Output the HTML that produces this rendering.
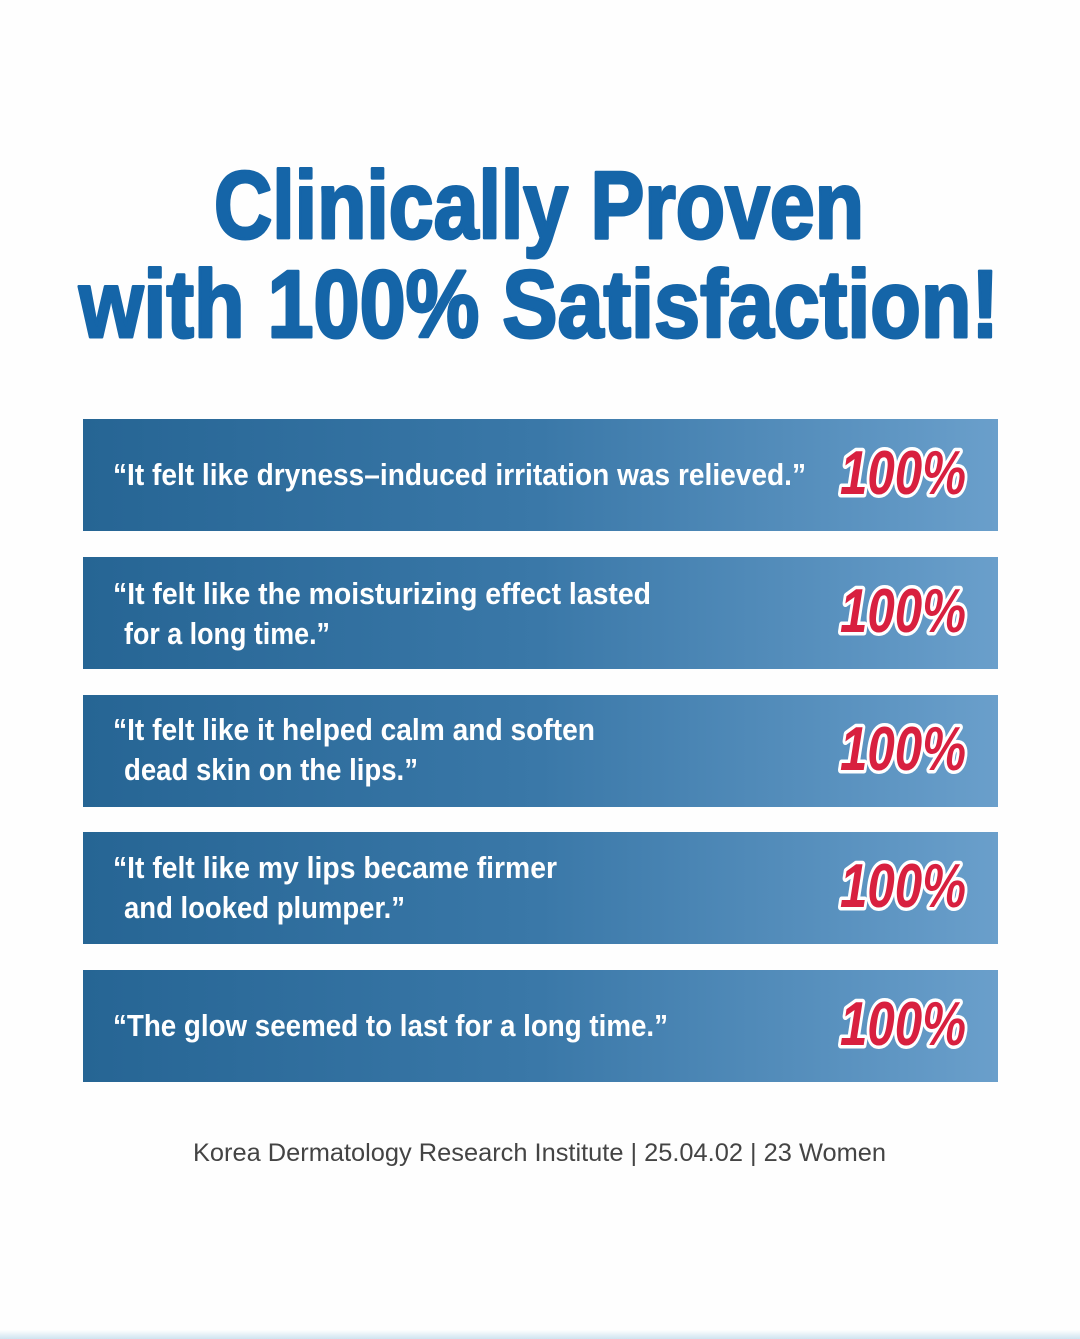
<!DOCTYPE html>
<html><head><meta charset="utf-8"><style>
html,body{margin:0;padding:0;background:#fefefe;}
svg{display:block}
</style></head><body>
<svg width="1080" height="1339" viewBox="0 0 1080 1339" xmlns="http://www.w3.org/2000/svg">
<defs>
<linearGradient id="g" x1="0" x2="1" y1="0" y2="0">
<stop offset="0" stop-color="#266594"/>
<stop offset="0.5" stop-color="#3a78a8"/>
<stop offset="1" stop-color="#6a9fcb"/>
</linearGradient>
<linearGradient id="b" x1="0" x2="0" y1="0" y2="1">
<stop offset="0" stop-color="#fefefe"/>
<stop offset="1" stop-color="#cfe3f0"/>
</linearGradient>
</defs>
<rect width="1080" height="1339" fill="#fefefe"/>
<rect x="0" y="1330" width="1080" height="9" fill="url(#b)"/>
<g font-family="Liberation Sans Narrow, Liberation Sans, sans-serif" font-weight="bold" fill="#1565a8" stroke="#1565a8" stroke-width="3" stroke-linejoin="round">
<text x="214" y="238" font-size="96" textLength="650" lengthAdjust="spacingAndGlyphs">Clinically Proven</text>
<text x="79" y="337" font-size="96" textLength="920" lengthAdjust="spacingAndGlyphs">with 100% Satisfaction!</text>
</g>
<g fill="url(#g)">
<rect x="83" y="419" width="915" height="112"/>
<rect x="83" y="557" width="915" height="112"/>
<rect x="83" y="695" width="915" height="112"/>
<rect x="83" y="832" width="915" height="112"/>
<rect x="83" y="970" width="915" height="112"/>
</g>
<g font-family="Liberation Sans Narrow, Liberation Sans, sans-serif" font-weight="bold" fill="#fff" font-size="31">
<text x="113" y="485" textLength="693" lengthAdjust="spacingAndGlyphs">“It felt like dryness–induced irritation was relieved.”</text>
<text x="113" y="604" textLength="538" lengthAdjust="spacingAndGlyphs">“It felt like the moisturizing effect lasted</text>
<text x="124" y="644" textLength="206" lengthAdjust="spacingAndGlyphs">for a long time.”</text>
<text x="113" y="740" textLength="482" lengthAdjust="spacingAndGlyphs">“It felt like it helped calm and soften</text>
<text x="124" y="780" textLength="294" lengthAdjust="spacingAndGlyphs">dead skin on the lips.”</text>
<text x="113" y="878" textLength="444" lengthAdjust="spacingAndGlyphs">“It felt like my lips became firmer</text>
<text x="124" y="918" textLength="281" lengthAdjust="spacingAndGlyphs">and looked plumper.”</text>
<text x="113" y="1036" textLength="555" lengthAdjust="spacingAndGlyphs">“The glow seemed to last for a long time.”</text>
</g>
<g font-family="Liberation Sans Narrow, Liberation Sans, sans-serif" font-weight="bold" font-style="italic" font-size="62" fill="#d8203f" stroke="#fff" stroke-width="7" paint-order="stroke" stroke-linejoin="round">
<text x="840" y="494" textLength="126" lengthAdjust="spacingAndGlyphs">100%</text>
<text x="840" y="632" textLength="126" lengthAdjust="spacingAndGlyphs">100%</text>
<text x="840" y="770" textLength="126" lengthAdjust="spacingAndGlyphs">100%</text>
<text x="840" y="907" textLength="126" lengthAdjust="spacingAndGlyphs">100%</text>
<text x="840" y="1045" textLength="126" lengthAdjust="spacingAndGlyphs">100%</text>
</g>
<text x="193" y="1161" font-family="Liberation Sans, sans-serif" font-size="25" fill="#444" textLength="693" lengthAdjust="spacingAndGlyphs">Korea Dermatology Research Institute | 25.04.02 | 23 Women</text>
</svg>
</body></html>
